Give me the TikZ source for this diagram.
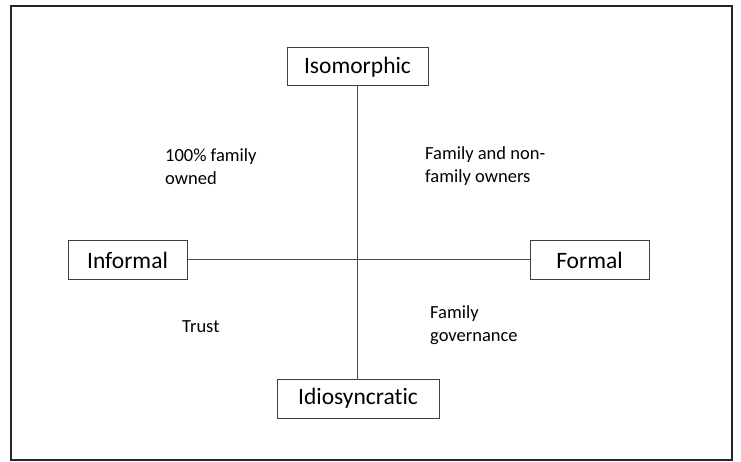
\documentclass[tikz,border=0pt]{standalone}
\usepackage{fontspec}
\setmainfont{Carlito}[Ligatures={NoCommon,NoRare}]
\begin{document}
\begin{tikzpicture}[x=1pt,y=-1pt,
  axisbox/.style={draw=black!75, line width=1pt, fill=white, minimum height=38pt, inner sep=0pt, font=\fontsize{23.5}{28}\selectfont},
  quadtext/.style={anchor=west, align=left, inner sep=0pt, font=\fontsize{18.5}{23}\selectfont},
  axisline/.style={draw=black!70, line width=1pt}]
\useasboundingbox (0,0) rectangle (741,462);
\draw[black!85, line width=1.2pt] (11,6) rectangle (732,460);
\node[axisbox, minimum width=141pt] (iso) at (357.5,67) {Isomorphic};
\node[axisbox, minimum width=119pt] (inf) at (127.5,260) {Informal};
\node[axisbox, minimum width=119pt] (for) at (589.5,260) {Formal};
\node[axisbox, minimum width=162pt, minimum height=39pt] (idio) at (358,398.5) {Idiosyncratic};
\draw[axisline] (iso.south) -- (iso.south |- idio.north);
\draw[axisline] (inf.east) -- (for.west);
\node[quadtext] (own) at (165,166.5) {100\% family\\owned};
\node[quadtext] (mix) at (425,166.5) {Family and non-\\family owners};
\node[quadtext] (trust) at (182,327) {Trust};
\node[quadtext] (gov) at (430,325.5) {Family\\governance};
\end{tikzpicture}
\end{document}
